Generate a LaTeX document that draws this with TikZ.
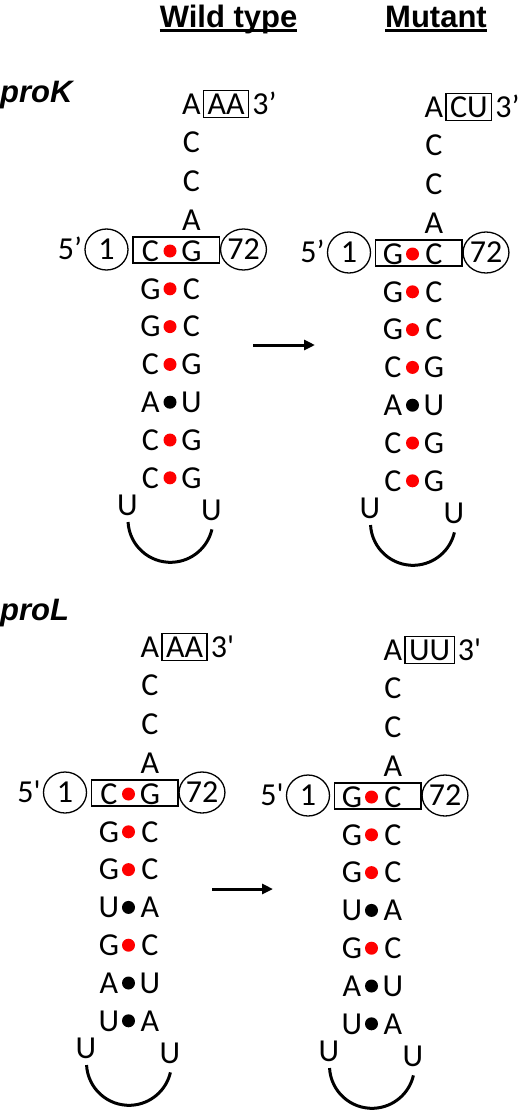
\documentclass[tikz,border=0pt]{standalone}
\usepackage{fontspec}
\setmainfont{Carlito}
\newfontfamily\hfont{Liberation Sans}
\usetikzlibrary{arrows.meta,shapes.geometric}
\tikzset{
 base/.style={inner sep=0pt, text height=20.5pt, text depth=0pt, font=\fontsize{32}{32}\selectfont},
 pdot/.style={circle, inner sep=0pt, minimum size=13pt},
 ring/.style={ellipse, draw, line width=1.3pt, minimum width=43pt, minimum height=41pt, inner sep=0pt, text height=20.5pt, text depth=0pt, font=\fontsize{32}{32}\selectfont},
 tailbox/.style={draw, line width=1.2pt, inner xsep=4pt, inner ysep=3pt, text height=20.5pt, text depth=0pt, font=\fontsize{32}{32}\selectfont},
 pairbox/.style={draw, line width=1.2pt},
 loopline/.style={line width=3pt},
 bigarrow/.style={line width=3pt, -{Triangle[length=11pt,width=10pt]}},
 head/.style={inner sep=0pt, font=\hfont\bfseries\fontsize{31}{31}\selectfont},
 genelabel/.style={inner sep=0pt, font=\hfont\bfseries\itshape\fontsize{31}{31}\selectfont},
}
\newcommand\stempanel[6]{%
 \begin{scope}[shift={(#2,#3)}]
  \foreach \L/\R/\c [count=\i] in {#4} {
   \node[base] (#1l\i) at (-41, {-(\i-1)*37.8}) {\L};
   \node[pdot, fill=\c] (#1d\i) at (-21.5, {-(\i-1)*37.8}) {};
   \node[base] (#1r\i) at (0, {-(\i-1)*37.8}) {\R};
  }
  \draw[pairbox] (-58.5,14) rectangle (28,-12);
  \node[ring] (#1one) at (-85,1.5) {1};
  \node[ring] (#1sev) at (52,1.5) {72};
  \node[base, anchor=east] (#1five) at ([xshift=-2pt]#1one.west) {5#6};
  \node[base] (#1a4) at (0,31) {A};
  \node[base] (#1c3) at (0,70) {C};
  \node[base] (#1c2) at (0,108.5) {C};
  \node[base] (#1a1) at (0,147) {A};
  \node[tailbox, anchor=west] (#1tb) at ([xshift=2pt]#1a1.east) {#5};
  \node[base, anchor=west] (#1three) at ([xshift=3pt]#1tb.east) {3#6};
  \node[base] (#1ul) at (-64,-253.8) {U};
  \node[base] (#1ur) at (20,-258.8) {U};
  \coordinate (#1lc) at (-21,-268.8);
  \draw[loopline] ([shift={(183:42.5pt)}]#1lc) arc[start angle=183, end angle=347, radius=42.5pt];
 \end{scope}}
\begin{document}
\begin{tikzpicture}[x=1pt,y=1pt]
\useasboundingbox (0,0) rectangle (520,-1111);
\node[head, anchor=base] (hw) at (228.5,-27) {Wild type};
\draw[line width=2.5pt] ([yshift=-3.5pt]hw.base west) -- ([yshift=-3.5pt]hw.base east);
\node[head, anchor=base] (hm) at (436,-27) {Mutant};
\draw[line width=2.5pt] ([yshift=-3.5pt]hm.base west) -- ([yshift=-3.5pt]hm.base east);
\node[genelabel, anchor=base west] (pk) at (0,-102) {proK};
\node[genelabel, anchor=base west] (pl) at (0,-620) {proL};
\stempanel{kw}{191.5}{-251}{C/G/red,G/C/red,G/C/red,C/G/red,A/U/black,C/G/red,C/G/red}{AA}{’}
\stempanel{km}{434}{-254}{G/C/red,G/C/red,G/C/red,C/G/red,A/U/black,C/G/red,C/G/red}{CU}{’}
\stempanel{lw}{150}{-794}{C/G/red,G/C/red,G/C/red,U/A/black,G/C/red,A/U/black,U/A/black}{AA}{\textquotesingle}
\stempanel{lm}{393}{-797}{G/C/red,G/C/red,G/C/red,U/A/black,G/C/red,A/U/black,U/A/black}{UU}{\textquotesingle}
\coordinate (ka1) at (253,-345);
\coordinate (ka2) at (315,-345);
\draw[bigarrow] (ka1) -- (ka2);
\coordinate (la1) at (212,-889);
\coordinate (la2) at (273,-889);
\draw[bigarrow] (la1) -- (la2);
\end{tikzpicture}
\end{document}
